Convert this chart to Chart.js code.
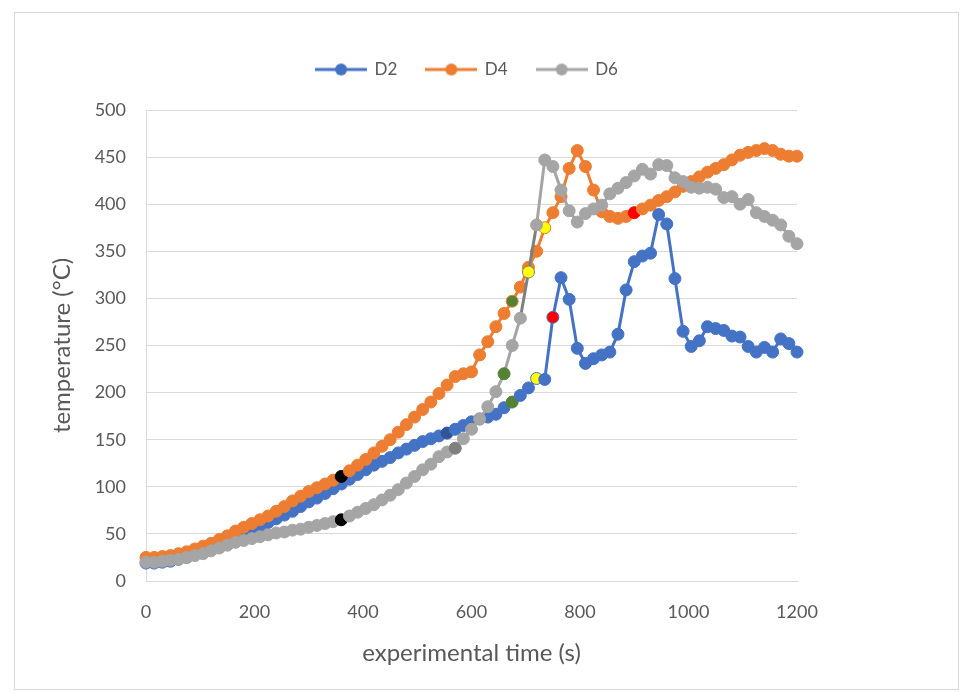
<!DOCTYPE html>
<html><head><meta charset="utf-8">
<script src="https://cdn.jsdelivr.net/npm/chart.js@4.4.1/dist/chart.umd.min.js"></script>
<style>
html,body{margin:0;padding:0;background:#fff;}
#card{position:absolute;left:14px;top:12px;width:945px;height:678px;border:1px solid #d9d9d9;box-sizing:border-box;}
#wrap{position:absolute;left:0;top:0;width:971px;height:693px;}
</style></head><body>
<div id="card"></div>
<div id="wrap"><canvas id="c" width="971" height="693"></canvas></div>
<script>
// ---- data ----
const times = [0,15,30,45,60,75,90,105,120,135,150,165,180,195,210,225,240,255,270,285,300,315,330,345,360,375,390,405,420,435,450,465,480,495,510,525,540,555,570,585,600,615,630,645,660,675,690,705,720,735,750,765,780,795,810,825,840,855,870,885,900,915,930,945,960,975,990,1005,1020,1035,1050,1065,1080,1095,1110,1125,1140,1155,1170,1185,1200];
const d2 = [19,19,20,21,23,25,28,31,34,37,
            41,45,49,53,58,62,66,70,74,79,
            84,88,93,98,103,108,113,118,123,127,
            131,136,140,144,148,151,154,157,161,165,
            169,172,174,177,184,190,197,205,215,214,
            280,322,299,247,231,236,240,243,262,309,
            339,345,348,389,379,321,265,249,255,270,
            268,266,260,259,249,243,248,243,257,252,
            243];
const d4 = [25,25,26,27,29,31,34,37,40,44,
            48,53,57,61,65,69,74,79,85,90,
            95,99,103,107,111,117,123,129,136,143,
            150,158,166,174,182,190,199,208,217,220,
            222,240,254,270,284,297,312,333,350,375,
            391,408,438,457,440,415,392,387,385,387,
            391,395,399,404,408,413,419,424,429,434,
            438,442,447,452,455,457,459,457,453,451,
            451];
const d6 = [20,20,21,22,23,25,27,29,32,35,
            38,41,43,45,47,49,51,52,54,55,
            57,59,61,63,65,69,73,77,81,86,
            91,97,104,111,118,124,132,137,141,151,
            161,172,185,201,220,250,279,328,378,447,
            440,415,393,381,390,395,399,411,417,423,
            430,437,432,442,441,428,424,418,417,418,
            416,407,408,400,405,391,387,383,378,366,
            358];
const seriesNames = ['D2','D4','D6'];
const xTicks = [0,200,400,600,800,1000,1200];
const yTicks = [0,50,100,150,200,250,300,350,400,450,500];

// ---- styles ----
const BLUE='#4472C4', ORANGE='#ED7D31', GRAY='#A5A5A5';
const BLACK='#000000', GREEN='#548235', YELLOW='#FFFF00', RED='#FF0000', DBLUE='#2F5597', DGRAY='#7F7F7F';
// special markers by time: [fill, border]
const spec2 = {555:[DBLUE,DBLUE], 675:[GREEN,GREEN], 720:[YELLOW,BLUE], 750:[RED,BLUE]};
const spec4 = {360:[BLACK,BLACK], 675:[GREEN,ORANGE], 735:[YELLOW,ORANGE], 900:[RED,RED]};
const spec6 = {360:[BLACK,BLACK], 570:[DGRAY,DGRAY], 660:[GREEN,GREEN], 705:[YELLOW,DGRAY]};
function fills(base, spec){ return times.map(t => spec[t] ? spec[t][0] : base); }
function borders(base, spec){ return times.map(t => spec[t] ? spec[t][1] : base); }
function pts(vals){ return times.map((t,i)=>({x:t, y:vals[i]})); }

function legendImg(color){
  const c=document.createElement('canvas'); c.width=52; c.height=14;
  const g=c.getContext('2d');
  g.strokeStyle=color; g.lineWidth=3; g.beginPath(); g.moveTo(0,7); g.lineTo(52,7); g.stroke();
  g.fillStyle=color; g.beginPath(); g.arc(26,7,6,0,Math.PI*2); g.fill();
  return c;
}
const legendImgs=[legendImg(BLUE),legendImg(ORANGE),legendImg(GRAY)];

const FONT="Lato, 'Open Sans', sans-serif";
const TXT='#595959';

function ds(label, vals, color, spec, order){
  return {label, data:pts(vals), borderColor:color, backgroundColor:color, borderWidth:3,
    pointRadius:6, pointHoverRadius:6, pointBorderWidth:1,
    pointBackgroundColor:fills(color,spec), pointBorderColor:borders(color,spec),
    tension:0, order, clip:false};
}
const dsets=[ds(seriesNames[0],d2,BLUE,spec2,3), ds(seriesNames[1],d4,ORANGE,spec4,2), ds(seriesNames[2],d6,GRAY,spec6,1)];
dsets[2].segment={borderColor: c => (c.p0.parsed.x===690||c.p0.parsed.x===705)?DGRAY:undefined};

const LTOP=32, PLOT_TOP=110, PLOT_LEFT=146, PLOT_BOTTOM=581, PLOT_RIGHT=797, LEG_CENTER=467;
const fixLayout={
  id:'fixLayout',
  beforeLayout(chart){
    const lg=chart.legend;
    if(lg && !lg._wrapped){
      const orig=lg.fit.bind(lg);
      lg.fit=function(){orig(); this.height=PLOT_TOP-LTOP;};
      lg._wrapped=true;
    }
  },
  afterLayout(chart){
    const lg=chart.legend;
    if(lg){ lg.left=LEG_CENTER-450; lg.right=LEG_CENTER+450; lg.width=900; }
  }
};

new Chart(document.getElementById('c'),{
  type:'line',
  data:{datasets:dsets},
  plugins:[fixLayout],
  options:{
    responsive:false, animation:false, devicePixelRatio:1,
    layout:{padding:{left:0,top:LTOP,right:971-PLOT_RIGHT,bottom:0}},
    plugins:{
      tooltip:{enabled:false},
      legend:{position:'top', align:'center',
        labels:{usePointStyle:true, pointStyleWidth:50, padding:29, color:TXT,
          font:{family:FONT,size:17},
          sort:(a,b)=>a.datasetIndex-b.datasetIndex,
          generateLabels:(chart)=>{
            const items=Chart.defaults.plugins.legend.labels.generateLabels(chart);
            items.forEach(it=>{ it.pointStyle=legendImgs[it.datasetIndex]; });
            return items;
          }}}
    },
    scales:{
      x:{type:'linear', min:0, max:1200,
        afterFit:s=>{s.height=693-PLOT_BOTTOM;},
        afterBuildTicks:s=>{s.ticks=xTicks.map(v=>({value:v}));},
        grid:{display:false, drawTicks:false},
        border:{display:true,color:'#d9d9d9',width:1},
        ticks:{padding:20,color:TXT,font:{family:FONT,size:18},maxRotation:0,callback:v=>String(v)},
        title:{display:true,text:'experimental time (s)',color:TXT,font:{family:FONT,size:24},padding:{top:0,bottom:25}}
      },
      y:{type:'linear', min:0, max:500,
        afterFit:s=>{s.width=PLOT_LEFT;},
        afterBuildTicks:s=>{s.ticks=yTicks.map(v=>({value:v}));},
        grid:{color:'#d9d9d9',lineWidth:1,drawTicks:false},
        border:{display:true,color:'#d9d9d9',width:1},
        ticks:{padding:20,color:TXT,font:{family:FONT,size:18},callback:v=>String(v)},
        title:{display:true,text:'temperature (°C)',color:TXT,font:{family:FONT,size:24},padding:{top:48,bottom:0}}
      }
    }
  }
});
</script>
</body></html>
